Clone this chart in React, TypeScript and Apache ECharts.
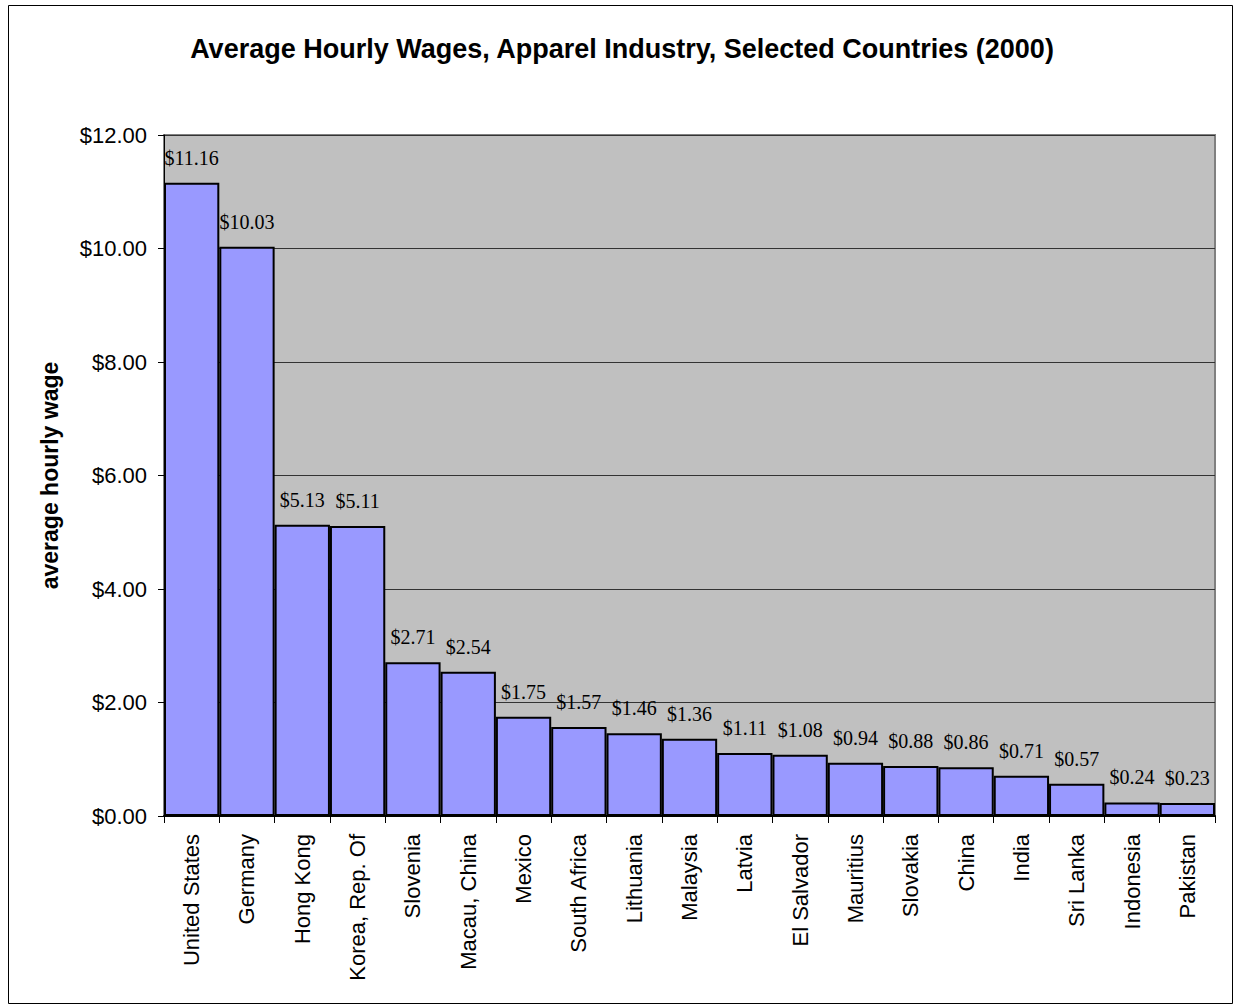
import React, { useEffect, useRef } from "react";
import * as echarts from "echarts";

const title = "Average Hourly Wages, Apparel Industry, Selected Countries (2000)";
const yAxisTitle = "average hourly wage";
const countries = [
  "United States", "Germany", "Hong Kong", "Korea, Rep. Of", "Slovenia", "Macau, China",
  "Mexico", "South Africa", "Lithuania", "Malaysia", "Latvia", "El Salvador",
  "Mauritius", "Slovakia", "China", "India", "Sri Lanka", "Indonesia", "Pakistan",
];
const wages = [
  11.16, 10.03, 5.13, 5.11, 2.71, 2.54, 1.75, 1.57, 1.46, 1.36, 1.11, 1.08,
  0.94, 0.88, 0.86, 0.71, 0.57, 0.24, 0.23,
];
const yMin = 0;
const yMax = 12;
const yStep = 2;

export default function App() {
  const ref = useRef<HTMLDivElement>(null);
  useEffect(() => {
    if (!ref.current) return;
    const chart = echarts.init(ref.current, null, { renderer: "svg" });
    const L = 164, T = 135, W = 1051, H = 681;
    chart.setOption({
      animation: false,
      backgroundColor: "#ffffff",
      graphic: [
        {
          type: "rect",
          shape: { x: 8.5, y: 5.5, width: 1224, height: 998 },
          style: { fill: "none", stroke: "#000", lineWidth: 1 },
          silent: true,
        },
        {
          type: "rect",
          z: -1,
          shape: { x: L, y: T, width: W, height: H },
          style: { fill: "#c0c0c0", stroke: "#808080", lineWidth: 2 },
          silent: true,
        },
        {
          type: "text",
          x: 622,
          y: 49,
          style: {
            text: title,
            fontFamily: "Liberation Sans, Arial, sans-serif",
            fontWeight: "bold",
            fontSize: 27,
            fill: "#000",
            align: "center",
            verticalAlign: "middle",
          },
        },
        {
          type: "text",
          x: 50,
          y: T + H / 2,
          rotation: Math.PI / 2,
          style: {
            text: yAxisTitle,
            fontFamily: "Liberation Sans, Arial, sans-serif",
            fontWeight: "bold",
            fontSize: 23,
            fill: "#000",
            align: "center",
            verticalAlign: "middle",
          },
        },
      ],
      grid: { left: L, top: T, width: W, height: H, containLabel: false },
      xAxis: {
        type: "category",
        data: countries,
        boundaryGap: true,
        axisLine: { show: true, lineStyle: { color: "#000", width: 2 } },
        axisTick: { show: true, length: 7, inside: false, lineStyle: { color: "#000", width: 1 } },
        axisLabel: {
          rotate: 90,
          interval: 0,
          margin: 18,
          fontFamily: "Liberation Sans, Arial, sans-serif",
          fontSize: 22,
          color: "#000",
        },
      },
      yAxis: {
        type: "value",
        min: yMin,
        max: yMax,
        interval: yStep,
        axisLine: { show: true, lineStyle: { color: "#000", width: 1 } },
        axisTick: { show: true, length: 6, lineStyle: { color: "#000" } },
        splitLine: { show: true, lineStyle: { color: "#333", width: 1 } },
        axisLabel: {
          margin: 17,
          fontFamily: "Liberation Sans, Arial, sans-serif",
          fontSize: 22,
          color: "#000",
          formatter: (v: number) => "$" + v.toFixed(2),
        },
      },
      series: [
        {
          type: "bar",
          data: wages,
          barCategoryGap: "0%",
          itemStyle: { color: "#9999ff", borderColor: "#000", borderWidth: 2 },
          label: {
            show: true,
            position: "top",
            distance: 15,
            fontFamily: "Liberation Serif, Times New Roman, serif",
            fontSize: 20,
            color: "#000",
            formatter: (p: any) => "$" + Number(p.value).toFixed(2),
          },
        },
      ],
    });
    return () => chart.dispose();
  }, []);
  return (
    <div
      ref={ref}
      style={{ position: "absolute", left: 0, top: 0, width: 1235, height: 1006 }}
    />
  );
}
